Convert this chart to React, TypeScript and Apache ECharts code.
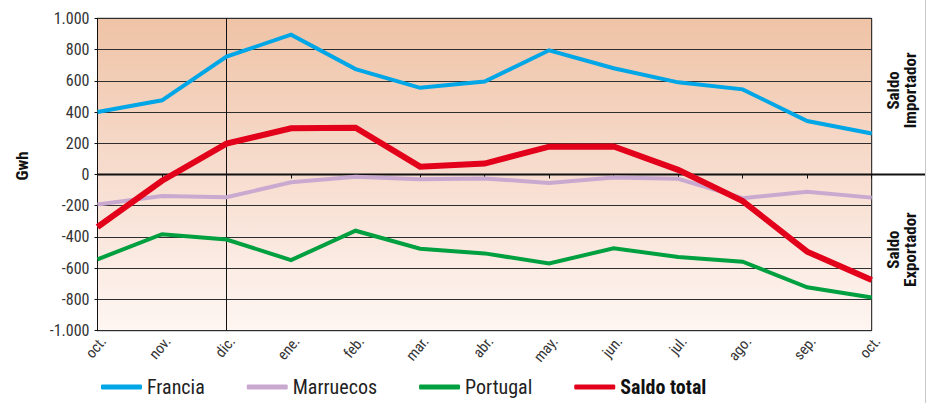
import React, { useEffect, useRef } from "react";
import * as echarts from "echarts";

const months = ["oct.", "nov.", "dic.", "ene.", "feb.", "mar.", "abr.", "may.", "jun.", "jul.", "ago.", "sep.", "oct."];
const francia = [400, 475, 755, 895, 675, 555, 595, 795, 680, 590, 545, 342, 262];
const marruecos = [-192, -137, -146, -50, -15, -30, -25, -55, -20, -27, -152, -110, -148];
const portugal = [-543, -382, -416, -548, -360, -475, -505, -570, -472, -528, -558, -722, -787];
const saldoTotal = [-336, -40, 198, 296, 300, 50, 70, 178, 180, 30, -170, -494, -676];
const yTicks = { min: -1000, max: 1000, interval: 200 };
const seriesNames = ["Francia", "Marruecos", "Portugal", "Saldo total"];
const colors = ["#00a6e6", "#c9a9cf", "#00a040", "#e2001a"];

const FONT = "'Liberation Sans Narrow', 'Arial Narrow', 'Roboto Condensed', sans-serif";

export default function App() {
  const ref = useRef<HTMLDivElement>(null);
  useEffect(() => {
    if (!ref.current) return;
    const chart = echarts.init(ref.current, null, { renderer: "svg" });
    const fmt = (v: number) => (Math.abs(v) >= 1000 ? (v < 0 ? "-" : "") + "1.000" : String(v));
    const datasets = [francia, marruecos, portugal, saldoTotal];
    chart.setOption({
      animation: false,
      backgroundColor: "#ffffff",
      grid: {
        left: 97.5,
        right: 56.3,
        top: 18.3,
        bottom: 72.3,
        show: true,
        borderColor: "#111",
        borderWidth: 1,
        backgroundColor: new echarts.graphic.LinearGradient(0, 0, 0, 1, [
          { offset: 0, color: "#efc3a6" },
          { offset: 0.5, color: "#f7ddcf" },
          { offset: 1, color: "#fef6f2" },
        ]),
      },
      legend: {
        left: 96,
        top: 372,
        itemWidth: 41,
        itemHeight: 5,
        itemGap: 42,
        icon: "roundRect",
        textStyle: { fontFamily: FONT, fontSize: 20, color: "#222", padding: [0, 0, 0, 0] },
        data: [
          { name: "Francia" },
          { name: "Marruecos" },
          { name: "Portugal" },
          { name: "Saldo total", textStyle: { fontWeight: "bold", color: "#111" } },
        ],
      },
      xAxis: {
        type: "category",
        data: months,
        boundaryGap: false,
        axisLine: { lineStyle: { color: "#111", width: 1 } },
        axisTick: { show: true, length: 4, lineStyle: { color: "#111" } },
        axisLabel: {
          rotate: 50,
          fontFamily: FONT,
          fontSize: 15,
          color: "#333",
          margin: 3,
          verticalAlign: "top",
          interval: 0,
        },
        splitLine: { show: false },
      },
      yAxis: {
        type: "value",
        min: yTicks.min,
        max: yTicks.max,
        interval: yTicks.interval,
        axisLine: { show: true, lineStyle: { color: "#111" } },
        axisTick: { show: true, length: 3, lineStyle: { color: "#111" } },
        axisLabel: {
          formatter: fmt,
          fontFamily: FONT,
          fontSize: 16,
          color: "#333",
          margin: 8,
        },
        splitLine: { show: true, lineStyle: { color: "#2e2e2e", width: 1 } },
      },
      series: seriesNames.map((name, i) => ({
        name,
        type: "line",
        data: datasets[i],
        symbol: "none",
        z: i === 3 ? 5 : 3,
        lineStyle: { color: colors[i], width: i === 3 ? 6 : 4, join: "miter" },
        itemStyle: { color: colors[i] },
        ...(i === 0
          ? {
              markLine: {
                silent: true,
                symbol: "none",
                label: { show: false },
                lineStyle: { color: "#111", width: 1, type: "solid" },
                data: [{ xAxis: 2 }],
                z: 1,
              },
            }
          : {}),
      })),
    });

    const y0 = chart.convertToPixel({ yAxisIndex: 0 }, 0) as number;
    const yTop = chart.convertToPixel({ yAxisIndex: 0 }, 1000) as number;
    const yBot = chart.convertToPixel({ yAxisIndex: 0 }, -1000) as number;
    const xRight = chart.convertToPixel({ xAxisIndex: 0 }, 12) as number;
    const xLeft = chart.convertToPixel({ xAxisIndex: 0 }, 0) as number;
    const impY = (yTop + y0) / 2 - 6;
    const expY = (y0 + yBot) / 2 - 3;
    const labelX = (xRight + 925) / 2 + 3;
    const sideText = (text: string, y: number) => ({
      type: "text",
      x: labelX,
      y,
      rotation: Math.PI / 2,
      style: {
        text,
        fontFamily: FONT,
        fontWeight: "bold",
        fontSize: 17,
        lineHeight: 17,
        fill: "#111",
        align: "center",
        verticalAlign: "middle",
      },
    });
    chart.setOption({
      graphic: [
        {
          type: "line",
          shape: { x1: xLeft, y1: y0, x2: 925, y2: y0 },
          style: { stroke: "#111", lineWidth: 2 },
          z: 2,
        },
        {
          type: "line",
          shape: { x1: 925.5, y1: 0, x2: 925.5, y2: 403 },
          style: { stroke: "#c8c8c8", lineWidth: 1 },
        },
        sideText("Saldo\nImportador", impY),
        sideText("Saldo\nExportador", expY),
        {
          type: "text",
          x: 22,
          y: 166,
          rotation: Math.PI / 2,
          style: {
            text: "Gwh",
            fontFamily: FONT,
            fontWeight: "bold",
            fontSize: 17,
            fill: "#111",
            align: "center",
            verticalAlign: "middle",
          },
        },
      ],
    });
    return () => chart.dispose();
  }, []);
  return (
    <div
      ref={ref}
      style={{ position: "fixed", left: 0, top: 0, width: 928, height: 403 }}
    />
  );
}
